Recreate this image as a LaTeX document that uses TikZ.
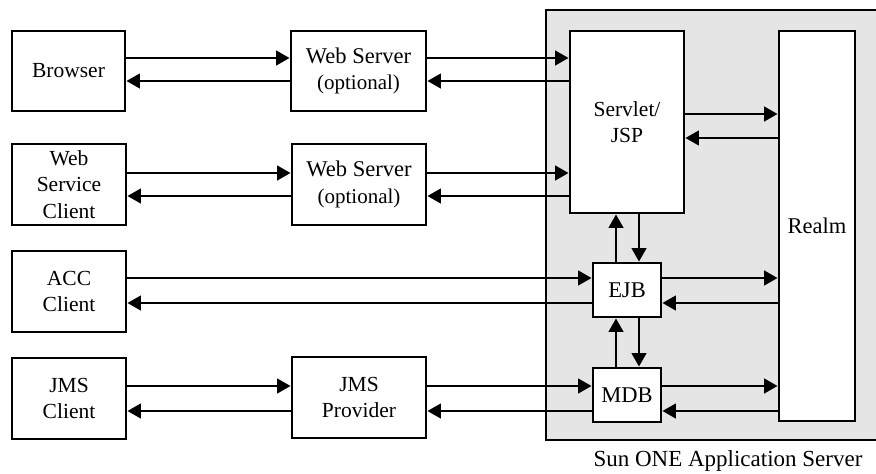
\documentclass[tikz,border=0pt]{standalone}
\usepackage{fontspec}
\setmainfont{Liberation Serif}
\usetikzlibrary{arrows.meta}
\definecolor{srvgray}{RGB}{229,229,229}
\begin{document}
\begin{tikzpicture}[x=1pt,y=-1pt,
  box/.style={draw, line width=2.8pt, fill=white, inner sep=0pt, align=center,
    font=\fontsize{21.5}{26.5}\selectfont},
  arr/.style={line width=2.6pt, -{Triangle[length=13.5pt,width=14.5pt]}},
  container/.style={draw, line width=2.4pt, fill=srvgray},
  caption/.style={font=\fontsize{23}{26}\selectfont, inner sep=0pt}
]
\useasboundingbox (0,0) rectangle (876,474);

% application server container
\draw[container] (546,10) rectangle (890,440);
\node[caption] (cap) at (728,461) {Sun ONE Application Server};

% left column
\node[box, minimum width=113pt, minimum height=80pt] (browser) at (68.5,71) {Browser};
\node[box, minimum width=114pt, minimum height=81pt] (wsc) at (69,184.5) {Web\\Service\\Client};
\node[box, minimum width=114pt, minimum height=81pt] (acc) at (69,291.5) {ACC\\Client};
\node[box, minimum width=114pt, minimum height=81pt] (jmsc) at (69,398.5) {JMS\\Client};

% middle column
\node[box, minimum width=135pt, minimum height=80pt] (ws1) at (358.5,71)
  {\fontsize{22.5}{27}\selectfont Web Server\\\fontsize{21}{27}\selectfont (optional)};
\node[box, minimum width=134pt, minimum height=81pt] (ws2) at (359,184.5)
  {\fontsize{22.5}{25}\selectfont Web Server\\\fontsize{21}{25}\selectfont (optional)};
\node[box, minimum width=134pt, minimum height=81pt] (jmsp) at (359,397.5) {JMS\\Provider};

% server components
\node[box, minimum width=114pt, minimum height=182pt] (servlet) at (627,122) {Servlet/\\JSP};
\node[box, minimum width=76pt, minimum height=390pt, font=\fontsize{22.5}{26}\selectfont] (realm) at (817,226) {Realm};
\node[box, minimum width=68pt, minimum height=54pt, font=\fontsize{22.5}{26}\selectfont] (ejb) at (627,290) {EJB};
\node[box, minimum width=68pt, minimum height=54pt, font=\fontsize{22.5}{26}\selectfont] (mdb) at (627,395) {MDB};

% row 1
\draw[arr] (browser.east |- 0,58) -- (ws1.west |- 0,58);
\draw[arr] (ws1.west |- 0,81) -- (browser.east |- 0,81);
\draw[arr] (ws1.east |- 0,58) -- (servlet.west |- 0,58);
\draw[arr] (servlet.west |- 0,81) -- (ws1.east |- 0,81);
% row 2
\draw[arr] (wsc.east |- 0,173) -- (ws2.west |- 0,173);
\draw[arr] (ws2.west |- 0,196) -- (wsc.east |- 0,196);
\draw[arr] (ws2.east |- 0,173) -- (servlet.west |- 0,173);
\draw[arr] (servlet.west |- 0,196) -- (ws2.east |- 0,196);
% row 3
\draw[arr] (acc.east |- 0,278) -- (ejb.west |- 0,278);
\draw[arr] (ejb.west |- 0,303) -- (acc.east |- 0,303);
% row 4
\draw[arr] (jmsc.east |- 0,386) -- (jmsp.west |- 0,386);
\draw[arr] (jmsp.west |- 0,411) -- (jmsc.east |- 0,411);
\draw[arr] (jmsp.east |- 0,386) -- (mdb.west |- 0,386);
\draw[arr] (mdb.west |- 0,411) -- (jmsp.east |- 0,411);

% to realm
\draw[arr] (servlet.east |- 0,114) -- (realm.west |- 0,114);
\draw[arr] (realm.west |- 0,138) -- (servlet.east |- 0,138);
\draw[arr] (ejb.east |- 0,278) -- (realm.west |- 0,278);
\draw[arr] (realm.west |- 0,303) -- (ejb.east |- 0,303);
\draw[arr] (mdb.east |- 0,386) -- (realm.west |- 0,386);
\draw[arr] (realm.west |- 0,411) -- (mdb.east |- 0,411);

% vertical links
\draw[arr] (ejb.north -| 616,0) -- (servlet.south -| 616,0);
\draw[arr] (servlet.south -| 639,0) -- (ejb.north -| 639,0);
\draw[arr] (mdb.north -| 616,0) -- (ejb.south -| 616,0);
\draw[arr] (ejb.south -| 639,0) -- (mdb.north -| 639,0);
\end{tikzpicture}
\end{document}
